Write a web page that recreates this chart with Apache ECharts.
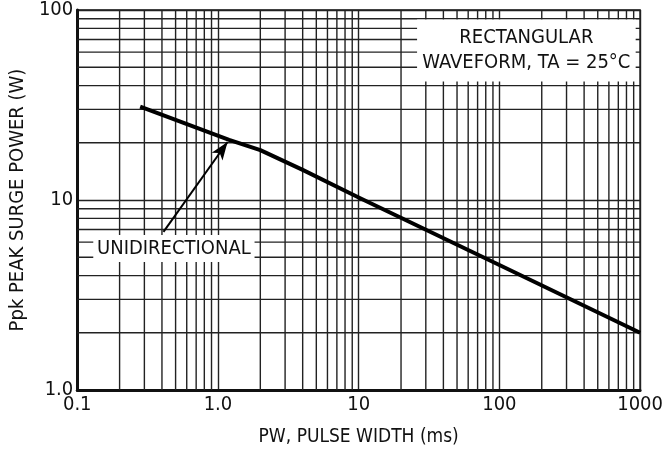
<!DOCTYPE html>
<html>
<head>
<meta charset="utf-8">
<script src="https://cdn.jsdelivr.net/npm/echarts@6/dist/echarts.min.js"></script>
<style>
html,body{margin:0;padding:0;background:#fff;}
#chart{width:666px;height:455px;}
</style>
</head>
<body>
<div id="chart"></div>
<script>
// ---- data ----
const pulseWidth = [0.28, 1.2, 2, 4, 10, 100, 1000];       // ms
const peakPower  = [31, 20.7, 18.3, 14.4, 10.3, 4.55, 2.0]; // W
const xTickLabels = ['0.1', '1.0', '10', '100', '1000'];
const yTickLabels = ['1.0', '10', '100'];
const xDecades = [0.1, 1, 10, 100];
const yDecades = [1, 10];
const minorSteps = [2, 3, 4, 5, 6, 7, 8, 9];
const noteTexts = ['RECTANGULAR\nWAVEFORM, TA = 25°C', 'UNIDIRECTIONAL'];
// note boxes in data units: [xFrom, yFrom, xTo, yTo]
const noteBoxes = [[26, 42, 930, 89], [0.13, 4.72, 1.82, 6.54]];
const arrowFrom = [0.41, 6.8];
const arrowTo = [1.17, 20.2];

const xMinor = [];
xDecades.forEach(d => minorSteps.forEach(s => xMinor.push(+(d * s).toPrecision(3))));
const yMinor = [];
yDecades.forEach(d => minorSteps.forEach(s => yMinor.push(+(d * s).toPrecision(3))));

const FONT = '"DejaVu Sans Condensed", "Liberation Sans Narrow", "Liberation Sans", sans-serif';
const GRID_COLOR = '#222';
const GRID_W = 1.4;

const chart = echarts.init(document.getElementById('chart'), null, {renderer: 'canvas'});

function decadeLabel(labels, first) {
  return function (v) {
    const i = Math.round(Math.log10(v) - Math.log10(first));
    return labels[i] !== undefined ? labels[i] : '';
  };
}

const option = {
  animation: false,
  backgroundColor: '#fff',
  grid: {
    left: 72, right: 22, top: 10, bottom: 65,
    show: true, borderColor: '#111', borderWidth: 1.5, backgroundColor: 'transparent'
  },
  xAxis: {
    type: 'log', logBase: 10, min: 0.1, max: 1000,
    name: 'PW, PULSE WIDTH (ms)', nameLocation: 'middle', nameGap: 38,
    nameTextStyle: {fontFamily: FONT, fontSize: 19, color: '#111'},
    axisLine: {show: true, lineStyle: {color: '#111', width: 3}},
    axisTick: {show: false},
    axisLabel: {fontFamily: FONT, fontSize: 20, color: '#111', margin: 5,
      formatter: decadeLabel(xTickLabels, 0.1)},
    splitLine: {show: true, lineStyle: {color: GRID_COLOR, width: GRID_W}},
    minorTick: {show: false}, minorSplitLine: {show: false}
  },
  yAxis: {
    type: 'log', logBase: 10, min: 1, max: 100,
    name: 'Ppk PEAK SURGE POWER (W)', nameLocation: 'middle', nameGap: 44, nameRotate: 90,
    nameTextStyle: {fontFamily: FONT, fontSize: 20, color: '#111'},
    axisLine: {show: true, lineStyle: {color: '#111', width: 3}},
    axisTick: {show: false},
    axisLabel: {fontFamily: FONT, fontSize: 20, color: '#111', margin: 4,
      formatter: decadeLabel(yTickLabels, 1)},
    splitLine: {show: true, lineStyle: {color: GRID_COLOR, width: GRID_W}}
  },
  series: [
    {
      type: 'custom', z: 1, silent: true, clip: true,
      data: xMinor.map(v => [v, 1]),
      renderItem: function (params, api) {
        const v = api.value(0);
        const a = api.coord([v, 1]);
        const b = api.coord([v, 100]);
        return {type: 'line', shape: {x1: a[0], y1: a[1], x2: b[0], y2: b[1]},
          style: {stroke: GRID_COLOR, lineWidth: GRID_W}};
      }
    },
    {
      type: 'custom', z: 1, silent: true, clip: true,
      data: yMinor.map(v => [0.1, v]),
      renderItem: function (params, api) {
        const v = api.value(1);
        const a = api.coord([0.1, v]);
        const b = api.coord([1000, v]);
        return {type: 'line', shape: {x1: a[0], y1: a[1], x2: b[0], y2: b[1]},
          style: {stroke: GRID_COLOR, lineWidth: GRID_W}};
      }
    },
    {
      type: 'custom', z: 2, silent: true,
      encode: {x: [0, 2], y: [1, 3]},
      data: noteBoxes.map((b, i) => b.concat([i])),
      renderItem: function (params, api) {
        const p1 = api.coord([api.value(0), api.value(3)]);
        const p2 = api.coord([api.value(2), api.value(1)]);
        const idx = api.value(4);
        return {
          type: 'group',
          children: [
            {type: 'rect', shape: {x: p1[0], y: p1[1], width: p2[0] - p1[0], height: p2[1] - p1[1]},
              style: {fill: '#fff'}},
            {type: 'text', x: (p1[0] + p2[0]) / 2, y: (p1[1] + p2[1]) / 2,
              style: {text: noteTexts[idx], fontFamily: FONT, fontSize: 20, fill: '#111',
                align: 'center', verticalAlign: 'middle', lineHeight: 25}}
          ]
        };
      }
    },
    {
      type: 'line', z: 3,
      data: pulseWidth.map((x, i) => [x, peakPower[i]]),
      showSymbol: false, smooth: false,
      lineStyle: {color: '#000', width: 4, join: 'round', cap: 'butt'},
      markLine: {
        silent: true, symbol: ['none', 'arrow'], symbolSize: [10, 18],
        label: {show: false},
        lineStyle: {color: '#000', width: 2, type: 'solid'},
        data: [[{coord: arrowFrom}, {coord: arrowTo}]]
      }
    }
  ]
};
chart.setOption(option);
</script>
</body>
</html>
